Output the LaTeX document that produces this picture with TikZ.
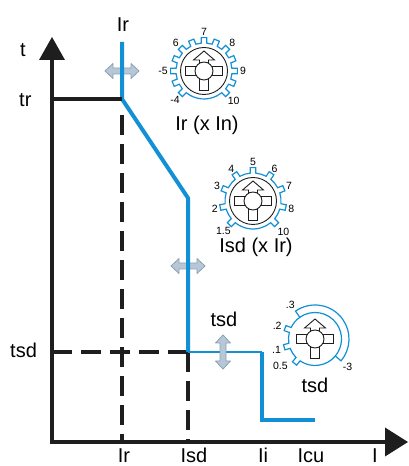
\documentclass[tikz,border=0pt]{standalone}
\usepackage{fontspec}
\setmainfont{Liberation Sans}
\usetikzlibrary{calc}
\definecolor{cblue}{RGB}{18,144,214}
\definecolor{cblack}{RGB}{30,30,30}
\definecolor{arrfill}{RGB}{182,200,216}
\definecolor{arrdraw}{RGB}{140,160,178}
\tikzset{
  axisline/.style={line width=4.5pt,draw=cblack,line join=miter},
  trline/.style={line width=4.5pt,draw=cblack},
  dashline/.style={line width=3.5pt,draw=cblack,dash pattern=on 20pt off 9pt},
  curve/.style={line width=4pt,draw=cblue,line join=miter},
  thincurve/.style={line width=2pt,draw=cblue},
  gearline/.style={line width=1.2pt,draw=cblue},
  symb/.style={line width=0.9pt,draw=cblack,fill=white},
  bigtxt/.style={font=\fontsize{20}{24}\selectfont,inner sep=0pt},
  numtxt/.style={font=\fontsize{10.5}{12}\selectfont,inner sep=0pt},
  dblarrow/.style={fill=arrfill,draw=arrdraw,line width=0.8pt,line join=round},
}
% double arrow, centred at origin, horizontal
\newcommand\mydblarrow{%
  \path[dblarrow] (-17,0) -- (-9,7.5) -- (-9,3) -- (9,3) -- (9,7.5) -- (17,0)
    -- (9,-7.5) -- (9,-3) -- (-9,-3) -- (-9,-7.5) -- cycle;}
% dial symbol: cross with up-arrow and central circle
\newcommand\mysymbol{%
  \path[symb] (-18.5,-4.5) rectangle (18.5,4.5);
  \path[symb] (-4.5,-19) rectangle (4.5,0);
  \path[symb] (-4.5,0) -- (-4.5,11) -- (-10.5,11) -- (0,20) -- (10.5,11) -- (4.5,11) -- (4.5,0) -- cycle;
  \path[symb] (0,0) circle[radius=9];}
% gear: #1 = last tooth index, #2 = angular step
\newcommand\mygear[2]{%
  \draw[gearline] ({225+5.7}:28pt) \foreach \i in {0,...,#1} {
     -- ({225-#2*\i+4.8}:33.5pt)
     arc[start angle={225-#2*\i+4.8}, end angle={225-#2*\i-4.8}, radius=33.5pt]
     -- ({225-#2*\i-5.7}:28pt)
     arc[start angle={225-#2*\i-5.7}, end angle={225-#2*(\i+1)+5.7}, radius=28pt]
  } arc[start angle={225-#2*(#1+1)+5.7}, end angle={-135+5.7}, radius=28pt] -- cycle;}
\begin{document}
\begin{tikzpicture}[x=1pt,y=1pt]
\useasboundingbox (0,0) rectangle (408,466);
% key points
\coordinate (O) at (52,24);
\coordinate (Ybase) at (52,406);
\coordinate (Ytip) at (52,429);
\coordinate (Xbase) at (385,24);
\coordinate (Xtip) at (408,24);
\coordinate (TR) at (52,367);
\coordinate (B0) at (122,424);
\coordinate (B1) at (122,367);
\coordinate (B2) at (188,268);
\coordinate (B3) at (188,114);
\coordinate (B4) at (262,114);
\coordinate (B5) at (262,46);
\coordinate (B6) at (315,46);
\coordinate (TSD) at (52,114);
\coordinate (D1) at (122,351);
\coordinate (D1b) at (122,24);
\coordinate (D2b) at (188,24);

% axes
\draw[axisline] (Ybase) -- (O) -- (Xbase);
\fill[cblack] (Ytip) -- ($(Ybase)+(-13,0)$) -- ($(Ybase)+(13,0)$) -- cycle;
\fill[cblack] (Xtip) -- ($(Xbase)+(0,14.5)$) -- ($(Xbase)+(0,-14.5)$) -- cycle;

% dashed guides
\draw[dashline] (D1) -- (D1b);
\draw[dashline] (B3) -- (D2b);
\draw[dashline] (TSD) -- (B3);

% adjustment arrows (behind curve)
\begin{scope}[shift={(122,395)}] \mydblarrow \end{scope}
\begin{scope}[shift={(188,200)}] \mydblarrow \end{scope}

% trip curve
\draw[curve] (B0) -- (B1) -- (B2) -- (B3);
\draw[thincurve] (B3) -- (B4);
\draw[curve] (B4) -- (B5) -- (B6);
\draw[trline] (TR) -- (B1);

\begin{scope}[shift={(223,114)},rotate=90] \mydblarrow \end{scope}

% dial 1
\begin{scope}[shift={(204,395)}]
  \mygear{12}{22.5}
  \draw[line width=0.9pt,draw=cblack] (0,0) circle[radius=23.5];
  \mysymbol
  \node[numtxt] (d1a) at (225:41) {-4};
  \node[numtxt] (d1b) at (180:41) {-5};
  \node[numtxt] (d1c) at (135:40) {6};
  \node[numtxt] (d1d) at (90:39) {7};
  \node[numtxt] (d1e) at (45:40) {8};
  \node[numtxt] (d1f) at (0:39) {9};
  \node[numtxt] (d1g) at (-45:42) {10};
\end{scope}

% dial 2
\begin{scope}[shift={(253,265)}]
  \mygear{8}{33.75}
  \draw[line width=0.9pt,draw=cblack] (0,0) circle[radius=23.5];
  \mysymbol
  \node[numtxt] (d2a) at (225:42) {1.5};
  \node[numtxt] (d2b) at (191.25:39) {2};
  \node[numtxt] (d2c) at (157.5:39) {3};
  \node[numtxt] (d2d) at (123.75:39) {4};
  \node[numtxt] (d2e) at (90:39) {5};
  \node[numtxt] (d2f) at (56.25:39) {6};
  \node[numtxt] (d2g) at (22.5:39) {7};
  \node[numtxt] (d2h) at (-11.25:39) {8};
  \node[numtxt] (d2i) at (-45:43) {10};
\end{scope}

% dial 3
\begin{scope}[shift={(315,127)}]
  \draw[gearline] (125:34) arc[start angle=125, end angle=-40, radius=34]
    -- (-40:26.5) arc[start angle=-40, end angle={-130+5.7}, radius=26.5]
    -- ({-130+4.8}:32) arc[start angle={-130+4.8}, end angle={-130-4.8}, radius=32]
    -- ({-130-5.7}:26.5) arc[start angle={-130-5.7}, end angle={-165+5.7}, radius=26.5]
    -- ({-165+4.8}:32) arc[start angle={-165+4.8}, end angle={-165-4.8}, radius=32]
    -- ({-165-5.7}:26.5) arc[start angle={-165-5.7}, end angle={-200+5.7}, radius=26.5]
    -- ({-200+4.8}:32) arc[start angle={-200+4.8}, end angle={-200-4.8}, radius=32]
    -- ({-200-5.7}:26.5) arc[start angle={-200-5.7}, end angle=-235, radius=26.5]
    -- cycle;
  \draw[gearline] (125:26.5) arc[start angle=125, end angle=-40, radius=26.5];
  \mysymbol
  \node[numtxt] (d3a) at (126:42) {.3};
  \node[numtxt] (d3b) at (161:40) {.2};
  \node[numtxt] (d3c) at (196:40) {.1};
  \node[numtxt] (d3d) at (218:44) {0.5};
  \node[numtxt] (d3e) at (-41:43) {-3};
\end{scope}

% labels
\node[bigtxt,anchor=base west] (lt) at (20,409) {t};
\node[bigtxt,anchor=base west] (ltr) at (19,359) {tr};
\node[bigtxt,anchor=base west] (ltsd) at (10,108) {tsd};
\node[bigtxt,anchor=base] (lIrtop) at (123,434) {Ir};
\node[bigtxt,anchor=base] (lIr) at (124,3) {Ir};
\node[bigtxt,anchor=base] (lIsd) at (194,3) {Isd};
\node[bigtxt,anchor=base] (lIi) at (263,3) {Ii};
\node[bigtxt,anchor=base] (lIcu) at (311,3) {Icu};
\node[bigtxt,anchor=base] (lI) at (375,3) {I};
\node[bigtxt,anchor=base] (ltsd2) at (224,139) {tsd};
\node[bigtxt,anchor=base] (ldial1) at (207,335) {Ir (x In)};
\node[bigtxt,anchor=base] (ldial2) at (256,213) {Isd (x Ir)};
\node[bigtxt,anchor=base] (ldial3) at (315,73) {tsd};
\end{tikzpicture}
\end{document}
